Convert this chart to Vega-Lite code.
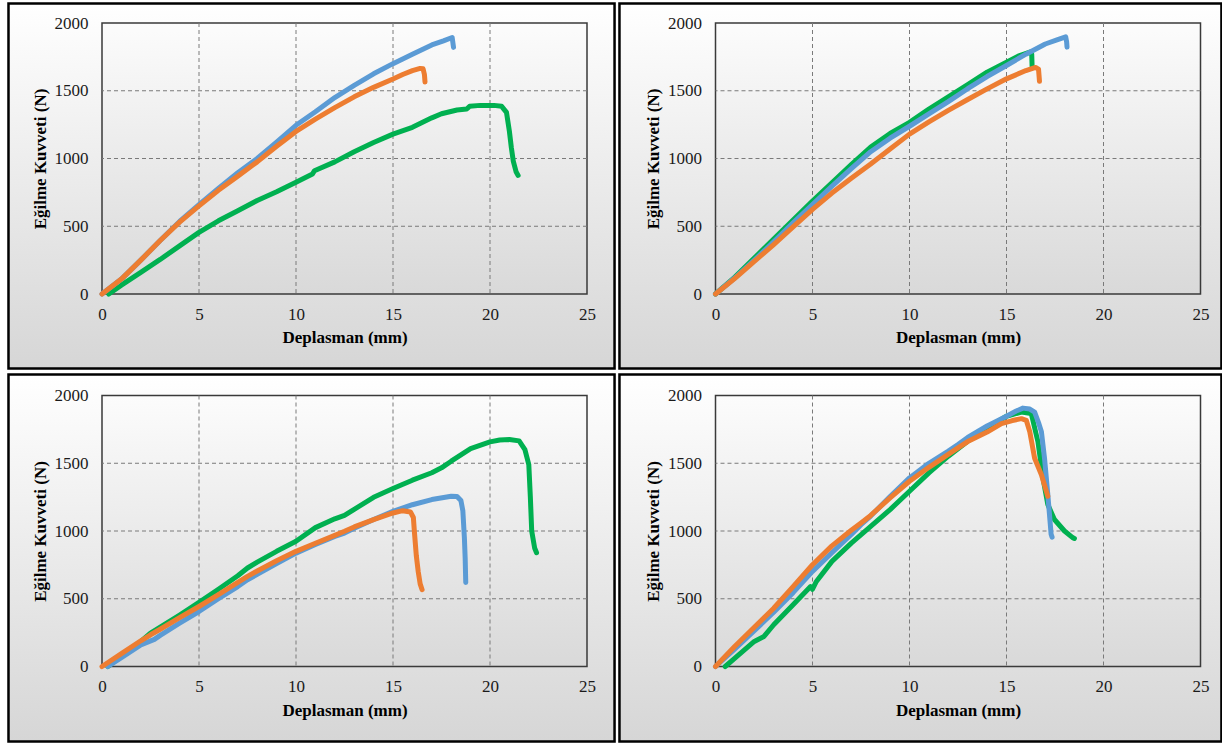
{
"$schema":"https://vega.github.io/schema/vega-lite/v6.json",
"background":"white",
"padding":{"left":7,"top":2,"right":0,"bottom":0},
"columns":2,
"align":"each",
"spacing":{"row":2.5,"column":1.5},
"config":{
 "view":{"stroke":null},
 "axis":{"grid":false,"domain":false,"ticks":false,"tickSize":0,"labelFont":"Liberation Serif","labelFontSize":17,"labelColor":"#1a1a1a","labelFlush":false,"labelOverlap":false,"titleFont":"Liberation Serif","titleFontSize":17,"titleFontWeight":"bold","titleColor":"#000000"},
 "axisX":{"tickCount":5},
 "axisY":{"tickCount":4}
},
"datasets":{"d":[
{"p":1,"s":"G","x":0.35,"y":0},{"p":1,"s":"G","x":1,"y":65},{"p":1,"s":"G","x":2,"y":160},{"p":1,"s":"G","x":3,"y":255},{"p":1,"s":"G","x":4,"y":355},{"p":1,"s":"G","x":5,"y":455},{"p":1,"s":"G","x":6,"y":540},{"p":1,"s":"G","x":7,"y":615},{"p":1,"s":"G","x":8,"y":690},{"p":1,"s":"G","x":9,"y":755},{"p":1,"s":"G","x":10,"y":825},{"p":1,"s":"G","x":10.85,"y":885},{"p":1,"s":"G","x":10.95,"y":910},{"p":1,"s":"G","x":12,"y":975},{"p":1,"s":"G","x":13,"y":1050},{"p":1,"s":"G","x":14,"y":1118},{"p":1,"s":"G","x":15,"y":1180},{"p":1,"s":"G","x":16,"y":1230},{"p":1,"s":"G","x":17,"y":1300},{"p":1,"s":"G","x":17.5,"y":1330},{"p":1,"s":"G","x":18.3,"y":1358},{"p":1,"s":"G","x":18.8,"y":1365},{"p":1,"s":"G","x":18.95,"y":1385},{"p":1,"s":"G","x":19.5,"y":1392},{"p":1,"s":"G","x":20.2,"y":1392},{"p":1,"s":"G","x":20.6,"y":1385},{"p":1,"s":"G","x":20.85,"y":1340},{"p":1,"s":"G","x":21.0,"y":1200},{"p":1,"s":"G","x":21.1,"y":1080},{"p":1,"s":"G","x":21.2,"y":980},{"p":1,"s":"G","x":21.35,"y":900},{"p":1,"s":"G","x":21.45,"y":875},
{"p":1,"s":"B","x":0,"y":0},{"p":1,"s":"B","x":1,"y":110},{"p":1,"s":"B","x":2,"y":250},{"p":1,"s":"B","x":3,"y":395},{"p":1,"s":"B","x":4,"y":535},{"p":1,"s":"B","x":5,"y":660},{"p":1,"s":"B","x":6,"y":780},{"p":1,"s":"B","x":7,"y":895},{"p":1,"s":"B","x":8,"y":1000},{"p":1,"s":"B","x":9,"y":1120},{"p":1,"s":"B","x":10,"y":1245},{"p":1,"s":"B","x":11,"y":1345},{"p":1,"s":"B","x":12,"y":1450},{"p":1,"s":"B","x":13,"y":1540},{"p":1,"s":"B","x":14,"y":1625},{"p":1,"s":"B","x":15,"y":1700},{"p":1,"s":"B","x":16,"y":1770},{"p":1,"s":"B","x":17,"y":1838},{"p":1,"s":"B","x":17.6,"y":1868},{"p":1,"s":"B","x":18.05,"y":1893},{"p":1,"s":"B","x":18.1,"y":1840},{"p":1,"s":"B","x":18.12,"y":1820},
{"p":1,"s":"O","x":0,"y":0},{"p":1,"s":"O","x":1,"y":110},{"p":1,"s":"O","x":2,"y":250},{"p":1,"s":"O","x":3,"y":395},{"p":1,"s":"O","x":4,"y":530},{"p":1,"s":"O","x":5,"y":650},{"p":1,"s":"O","x":6,"y":765},{"p":1,"s":"O","x":7,"y":870},{"p":1,"s":"O","x":8,"y":975},{"p":1,"s":"O","x":9,"y":1090},{"p":1,"s":"O","x":10,"y":1200},{"p":1,"s":"O","x":11,"y":1290},{"p":1,"s":"O","x":12,"y":1375},{"p":1,"s":"O","x":13,"y":1455},{"p":1,"s":"O","x":14,"y":1525},{"p":1,"s":"O","x":15,"y":1587},{"p":1,"s":"O","x":15.5,"y":1620},{"p":1,"s":"O","x":16,"y":1648},{"p":1,"s":"O","x":16.4,"y":1665},{"p":1,"s":"O","x":16.55,"y":1662},{"p":1,"s":"O","x":16.62,"y":1620},{"p":1,"s":"O","x":16.65,"y":1565},
{"p":2,"s":"G","x":0,"y":0},{"p":2,"s":"G","x":1,"y":125},{"p":2,"s":"G","x":2,"y":265},{"p":2,"s":"G","x":3,"y":405},{"p":2,"s":"G","x":4,"y":545},{"p":2,"s":"G","x":5,"y":686},{"p":2,"s":"G","x":6,"y":820},{"p":2,"s":"G","x":7,"y":955},{"p":2,"s":"G","x":8,"y":1085},{"p":2,"s":"G","x":9,"y":1185},{"p":2,"s":"G","x":10,"y":1267},{"p":2,"s":"G","x":11,"y":1365},{"p":2,"s":"G","x":12,"y":1455},{"p":2,"s":"G","x":13,"y":1545},{"p":2,"s":"G","x":14,"y":1637},{"p":2,"s":"G","x":15,"y":1711},{"p":2,"s":"G","x":15.6,"y":1755},{"p":2,"s":"G","x":16.2,"y":1785},{"p":2,"s":"G","x":16.3,"y":1770},{"p":2,"s":"G","x":16.32,"y":1680},
{"p":2,"s":"B","x":0,"y":0},{"p":2,"s":"B","x":1,"y":120},{"p":2,"s":"B","x":2,"y":250},{"p":2,"s":"B","x":3,"y":385},{"p":2,"s":"B","x":4,"y":525},{"p":2,"s":"B","x":5,"y":660},{"p":2,"s":"B","x":6,"y":795},{"p":2,"s":"B","x":7,"y":925},{"p":2,"s":"B","x":8,"y":1050},{"p":2,"s":"B","x":9,"y":1150},{"p":2,"s":"B","x":10,"y":1238},{"p":2,"s":"B","x":11,"y":1330},{"p":2,"s":"B","x":12,"y":1420},{"p":2,"s":"B","x":13,"y":1515},{"p":2,"s":"B","x":14,"y":1605},{"p":2,"s":"B","x":15,"y":1686},{"p":2,"s":"B","x":16,"y":1770},{"p":2,"s":"B","x":17,"y":1845},{"p":2,"s":"B","x":17.6,"y":1875},{"p":2,"s":"B","x":18.05,"y":1898},{"p":2,"s":"B","x":18.1,"y":1860},{"p":2,"s":"B","x":18.12,"y":1822},
{"p":2,"s":"O","x":0,"y":0},{"p":2,"s":"O","x":1,"y":115},{"p":2,"s":"O","x":2,"y":240},{"p":2,"s":"O","x":3,"y":365},{"p":2,"s":"O","x":4,"y":495},{"p":2,"s":"O","x":5,"y":625},{"p":2,"s":"O","x":6,"y":745},{"p":2,"s":"O","x":7,"y":855},{"p":2,"s":"O","x":8,"y":960},{"p":2,"s":"O","x":9,"y":1070},{"p":2,"s":"O","x":10,"y":1180},{"p":2,"s":"O","x":11,"y":1270},{"p":2,"s":"O","x":12,"y":1355},{"p":2,"s":"O","x":13,"y":1435},{"p":2,"s":"O","x":14,"y":1514},{"p":2,"s":"O","x":15,"y":1588},{"p":2,"s":"O","x":16,"y":1649},{"p":2,"s":"O","x":16.5,"y":1672},{"p":2,"s":"O","x":16.65,"y":1660},{"p":2,"s":"O","x":16.7,"y":1570},
{"p":3,"s":"G","x":0.3,"y":0},{"p":3,"s":"G","x":1,"y":80},{"p":3,"s":"G","x":2,"y":185},{"p":3,"s":"G","x":2.5,"y":246},{"p":3,"s":"G","x":3,"y":290},{"p":3,"s":"G","x":4,"y":380},{"p":3,"s":"G","x":5,"y":473},{"p":3,"s":"G","x":6,"y":570},{"p":3,"s":"G","x":7,"y":670},{"p":3,"s":"G","x":7.5,"y":727},{"p":3,"s":"G","x":8,"y":770},{"p":3,"s":"G","x":9,"y":850},{"p":3,"s":"G","x":10,"y":924},{"p":3,"s":"G","x":11,"y":1025},{"p":3,"s":"G","x":12,"y":1090},{"p":3,"s":"G","x":12.5,"y":1116},{"p":3,"s":"G","x":13,"y":1160},{"p":3,"s":"G","x":14,"y":1249},{"p":3,"s":"G","x":15,"y":1313},{"p":3,"s":"G","x":16,"y":1375},{"p":3,"s":"G","x":17,"y":1430},{"p":3,"s":"G","x":17.5,"y":1466},{"p":3,"s":"G","x":18,"y":1515},{"p":3,"s":"G","x":19,"y":1608},{"p":3,"s":"G","x":20,"y":1658},{"p":3,"s":"G","x":20.5,"y":1672},{"p":3,"s":"G","x":21,"y":1675},{"p":3,"s":"G","x":21.5,"y":1665},{"p":3,"s":"G","x":21.8,"y":1600},{"p":3,"s":"G","x":22.0,"y":1490},{"p":3,"s":"G","x":22.08,"y":1250},{"p":3,"s":"G","x":22.15,"y":1000},{"p":3,"s":"G","x":22.3,"y":875},{"p":3,"s":"G","x":22.4,"y":840},
{"p":3,"s":"B","x":0.3,"y":0},{"p":3,"s":"B","x":1,"y":65},{"p":3,"s":"B","x":2,"y":160},{"p":3,"s":"B","x":2.7,"y":200},{"p":3,"s":"B","x":3,"y":230},{"p":3,"s":"B","x":4,"y":320},{"p":3,"s":"B","x":5,"y":406},{"p":3,"s":"B","x":6,"y":500},{"p":3,"s":"B","x":7,"y":590},{"p":3,"s":"B","x":7.5,"y":640},{"p":3,"s":"B","x":8,"y":680},{"p":3,"s":"B","x":9,"y":760},{"p":3,"s":"B","x":10,"y":837},{"p":3,"s":"B","x":11,"y":900},{"p":3,"s":"B","x":12,"y":960},{"p":3,"s":"B","x":12.5,"y":985},{"p":3,"s":"B","x":13,"y":1020},{"p":3,"s":"B","x":14,"y":1085},{"p":3,"s":"B","x":15,"y":1145},{"p":3,"s":"B","x":16,"y":1194},{"p":3,"s":"B","x":17,"y":1232},{"p":3,"s":"B","x":18,"y":1256},{"p":3,"s":"B","x":18.3,"y":1255},{"p":3,"s":"B","x":18.5,"y":1225},{"p":3,"s":"B","x":18.6,"y":1150},{"p":3,"s":"B","x":18.68,"y":950},{"p":3,"s":"B","x":18.72,"y":800},{"p":3,"s":"B","x":18.75,"y":620},
{"p":3,"s":"O","x":0,"y":0},{"p":3,"s":"O","x":1,"y":95},{"p":3,"s":"O","x":2,"y":190},{"p":3,"s":"O","x":2.5,"y":234},{"p":3,"s":"O","x":3,"y":275},{"p":3,"s":"O","x":4,"y":360},{"p":3,"s":"O","x":5,"y":443},{"p":3,"s":"O","x":6,"y":530},{"p":3,"s":"O","x":7,"y":620},{"p":3,"s":"O","x":7.5,"y":665},{"p":3,"s":"O","x":8,"y":705},{"p":3,"s":"O","x":9,"y":780},{"p":3,"s":"O","x":10,"y":850},{"p":3,"s":"O","x":11,"y":910},{"p":3,"s":"O","x":12,"y":968},{"p":3,"s":"O","x":12.5,"y":998},{"p":3,"s":"O","x":13,"y":1030},{"p":3,"s":"O","x":14,"y":1084},{"p":3,"s":"O","x":15,"y":1133},{"p":3,"s":"O","x":15.5,"y":1150},{"p":3,"s":"O","x":15.9,"y":1140},{"p":3,"s":"O","x":16.05,"y":1100},{"p":3,"s":"O","x":16.1,"y":1000},{"p":3,"s":"O","x":16.2,"y":820},{"p":3,"s":"O","x":16.3,"y":700},{"p":3,"s":"O","x":16.4,"y":610},{"p":3,"s":"O","x":16.5,"y":567},
{"p":4,"s":"G","x":0.5,"y":0},{"p":4,"s":"G","x":1,"y":62},{"p":4,"s":"G","x":2,"y":185},{"p":4,"s":"G","x":2.5,"y":222},{"p":4,"s":"G","x":3,"y":308},{"p":4,"s":"G","x":4,"y":456},{"p":4,"s":"G","x":4.9,"y":590},{"p":4,"s":"G","x":5.0,"y":570},{"p":4,"s":"G","x":5.2,"y":628},{"p":4,"s":"G","x":6,"y":776},{"p":4,"s":"G","x":7,"y":911},{"p":4,"s":"G","x":8,"y":1034},{"p":4,"s":"G","x":9,"y":1158},{"p":4,"s":"G","x":10,"y":1293},{"p":4,"s":"G","x":11,"y":1429},{"p":4,"s":"G","x":12,"y":1552},{"p":4,"s":"G","x":13,"y":1663},{"p":4,"s":"G","x":14,"y":1761},{"p":4,"s":"G","x":15,"y":1847},{"p":4,"s":"G","x":15.77,"y":1878},{"p":4,"s":"G","x":16.28,"y":1866},{"p":4,"s":"G","x":16.62,"y":1659},{"p":4,"s":"G","x":16.88,"y":1390},{"p":4,"s":"G","x":17.13,"y":1195},{"p":4,"s":"G","x":17.47,"y":1085},{"p":4,"s":"G","x":17.99,"y":1000},{"p":4,"s":"G","x":18.41,"y":951},{"p":4,"s":"G","x":18.5,"y":945},
{"p":4,"s":"B","x":0,"y":0},{"p":4,"s":"B","x":1,"y":130},{"p":4,"s":"B","x":2,"y":265},{"p":4,"s":"B","x":3,"y":400},{"p":4,"s":"B","x":4,"y":545},{"p":4,"s":"B","x":5,"y":702},{"p":4,"s":"B","x":6,"y":840},{"p":4,"s":"B","x":7,"y":975},{"p":4,"s":"B","x":7.5,"y":1047},{"p":4,"s":"B","x":8,"y":1110},{"p":4,"s":"B","x":9,"y":1255},{"p":4,"s":"B","x":10,"y":1392},{"p":4,"s":"B","x":11,"y":1500},{"p":4,"s":"B","x":12,"y":1590},{"p":4,"s":"B","x":12.5,"y":1638},{"p":4,"s":"B","x":13,"y":1690},{"p":4,"s":"B","x":14,"y":1775},{"p":4,"s":"B","x":15,"y":1847},{"p":4,"s":"B","x":15.5,"y":1885},{"p":4,"s":"B","x":15.85,"y":1907},{"p":4,"s":"B","x":16.2,"y":1900},{"p":4,"s":"B","x":16.45,"y":1878},{"p":4,"s":"B","x":16.65,"y":1800},{"p":4,"s":"B","x":16.8,"y":1732},{"p":4,"s":"B","x":16.96,"y":1537},{"p":4,"s":"B","x":17.13,"y":1268},{"p":4,"s":"B","x":17.3,"y":976},{"p":4,"s":"B","x":17.35,"y":955},
{"p":4,"s":"O","x":0,"y":0},{"p":4,"s":"O","x":1,"y":150},{"p":4,"s":"O","x":2,"y":290},{"p":4,"s":"O","x":3,"y":430},{"p":4,"s":"O","x":4,"y":590},{"p":4,"s":"O","x":5,"y":751},{"p":4,"s":"O","x":6,"y":890},{"p":4,"s":"O","x":7,"y":1005},{"p":4,"s":"O","x":7.5,"y":1059},{"p":4,"s":"O","x":8,"y":1115},{"p":4,"s":"O","x":9,"y":1245},{"p":4,"s":"O","x":10,"y":1367},{"p":4,"s":"O","x":11,"y":1470},{"p":4,"s":"O","x":12,"y":1565},{"p":4,"s":"O","x":12.5,"y":1613},{"p":4,"s":"O","x":13,"y":1660},{"p":4,"s":"O","x":14,"y":1730},{"p":4,"s":"O","x":14.74,"y":1793},{"p":4,"s":"O","x":15.3,"y":1815},{"p":4,"s":"O","x":15.77,"y":1829},{"p":4,"s":"O","x":16.02,"y":1817},{"p":4,"s":"O","x":16.2,"y":1732},{"p":4,"s":"O","x":16.45,"y":1537},{"p":4,"s":"O","x":16.8,"y":1415},{"p":4,"s":"O","x":17.13,"y":1256}
]},
"concat":[
{"width":485,"height":271,"layer":[
 {"data":{"values":[{}]},"mark":{"type":"rect","clip":false,"fill":{"gradient":"linear","x1":0,"y1":0,"x2":0,"y2":1,"stops":[{"offset":0,"color":"#ffffff"},{"offset":1,"color":"#d6d6d6"}]},"stroke":"#000000","strokeWidth":2.5},
  "encoding":{"x":{"datum":-4.82,"type":"quantitative","scale":{"domain":[0,25],"nice":false,"zero":false},"title":"Deplasman (mm)","axis":{"zindex":1,"format":"d","titleY":48.5,"titleBaseline":"alphabetic","labelPadding":12}},"x2":{"datum":26.42},"y":{"datum":2144,"type":"quantitative","scale":{"domain":[0,2000],"nice":false,"zero":false},"title":"Eğilme Kuvveti (N)","axis":{"zindex":1,"format":"d","titleX":-57,"titleBaseline":"alphabetic","labelPadding":14}},"y2":{"datum":-550}}},
 {"data":{"values":[{}]},"mark":{"type":"rect","fill":{"gradient":"linear","x1":0,"y1":0,"x2":0,"y2":1,"stops":[{"offset":0,"color":"#fcfcfc"},{"offset":1,"color":"#d9d9d9"}]},"stroke":"#3a3a3a","strokeWidth":1.5},
  "encoding":{"x":{"datum":0,"type":"quantitative","scale":{"domain":[0,25],"nice":false,"zero":false},"title":"Deplasman (mm)"},"x2":{"datum":25},"y":{"datum":2000,"type":"quantitative","scale":{"domain":[0,2000],"nice":false,"zero":false},"title":"Eğilme Kuvveti (N)"},"y2":{"datum":0}}},
 {"data":{"values":[{"v":5},{"v":10},{"v":15},{"v":20}]},"mark":{"type":"rule","stroke":"#7a7a7a","strokeDash":[4,3],"strokeWidth":1},"encoding":{"x":{"field":"v","type":"quantitative","scale":{"domain":[0,25],"nice":false,"zero":false},"title":"Deplasman (mm)"}}},
 {"data":{"values":[{"v":500},{"v":1000},{"v":1500}]},"mark":{"type":"rule","stroke":"#7a7a7a","strokeDash":[4,3],"strokeWidth":1},"encoding":{"y":{"field":"v","type":"quantitative","scale":{"domain":[0,2000],"nice":false,"zero":false},"title":"Eğilme Kuvveti (N)"}}},
 {"data":{"name":"d"},"transform":[{"filter":"datum.p==1"}],"mark":{"type":"line","strokeWidth":5,"strokeCap":"round","strokeJoin":"round"},
  "encoding":{"x":{"field":"x","type":"quantitative","scale":{"domain":[0,25],"nice":false,"zero":false},"title":"Deplasman (mm)"},"y":{"field":"y","type":"quantitative","scale":{"domain":[0,2000],"nice":false,"zero":false},"title":"Eğilme Kuvveti (N)"},"color":{"field":"s","type":"nominal","scale":{"domain":["B","O","G"],"range":["#5b9bd5","#ed7d31","#00b050"]},"legend":null}}}
]},
{"width":485,"height":271,"layer":[
 {"data":{"values":[{}]},"mark":{"type":"rect","clip":false,"fill":{"gradient":"linear","x1":0,"y1":0,"x2":0,"y2":1,"stops":[{"offset":0,"color":"#ffffff"},{"offset":1,"color":"#d6d6d6"}]},"stroke":"#000000","strokeWidth":2.5},
  "encoding":{"x":{"datum":-4.95,"type":"quantitative","scale":{"domain":[0,25],"nice":false,"zero":false},"title":"Deplasman (mm)","axis":{"zindex":1,"format":"d","titleY":48.5,"titleBaseline":"alphabetic","labelPadding":12}},"x2":{"datum":26.08},"y":{"datum":2144,"type":"quantitative","scale":{"domain":[0,2000],"nice":false,"zero":false},"title":"Eğilme Kuvveti (N)","axis":{"zindex":1,"format":"d","titleX":-57,"titleBaseline":"alphabetic","labelPadding":14}},"y2":{"datum":-550}}},
 {"data":{"values":[{}]},"mark":{"type":"rect","fill":{"gradient":"linear","x1":0,"y1":0,"x2":0,"y2":1,"stops":[{"offset":0,"color":"#fcfcfc"},{"offset":1,"color":"#d9d9d9"}]},"stroke":"#3a3a3a","strokeWidth":1.5},
  "encoding":{"x":{"datum":0,"type":"quantitative","scale":{"domain":[0,25],"nice":false,"zero":false},"title":"Deplasman (mm)"},"x2":{"datum":25},"y":{"datum":2000,"type":"quantitative","scale":{"domain":[0,2000],"nice":false,"zero":false},"title":"Eğilme Kuvveti (N)"},"y2":{"datum":0}}},
 {"data":{"values":[{"v":5},{"v":10},{"v":15},{"v":20}]},"mark":{"type":"rule","stroke":"#7a7a7a","strokeDash":[4,3],"strokeWidth":1},"encoding":{"x":{"field":"v","type":"quantitative","scale":{"domain":[0,25],"nice":false,"zero":false},"title":"Deplasman (mm)"}}},
 {"data":{"values":[{"v":500},{"v":1000},{"v":1500}]},"mark":{"type":"rule","stroke":"#7a7a7a","strokeDash":[4,3],"strokeWidth":1},"encoding":{"y":{"field":"v","type":"quantitative","scale":{"domain":[0,2000],"nice":false,"zero":false},"title":"Eğilme Kuvveti (N)"}}},
 {"data":{"name":"d"},"transform":[{"filter":"datum.p==2"}],"mark":{"type":"line","strokeWidth":5,"strokeCap":"round","strokeJoin":"round"},
  "encoding":{"x":{"field":"x","type":"quantitative","scale":{"domain":[0,25],"nice":false,"zero":false},"title":"Deplasman (mm)"},"y":{"field":"y","type":"quantitative","scale":{"domain":[0,2000],"nice":false,"zero":false},"title":"Eğilme Kuvveti (N)"},"color":{"field":"s","type":"nominal","scale":{"domain":["B","O","G"],"range":["#5b9bd5","#ed7d31","#00b050"]},"legend":null}}}
]},
{"width":485,"height":271,"layer":[
 {"data":{"values":[{}]},"mark":{"type":"rect","clip":false,"fill":{"gradient":"linear","x1":0,"y1":0,"x2":0,"y2":1,"stops":[{"offset":0,"color":"#ffffff"},{"offset":1,"color":"#d6d6d6"}]},"stroke":"#000000","strokeWidth":2.5},
  "encoding":{"x":{"datum":-4.82,"type":"quantitative","scale":{"domain":[0,25],"nice":false,"zero":false},"title":"Deplasman (mm)","axis":{"zindex":1,"format":"d","titleY":48.5,"titleBaseline":"alphabetic","labelPadding":12}},"x2":{"datum":26.42},"y":{"datum":2155,"type":"quantitative","scale":{"domain":[0,2000],"nice":false,"zero":false},"title":"Eğilme Kuvveti (N)","axis":{"zindex":1,"format":"d","titleX":-57,"titleBaseline":"alphabetic","labelPadding":14}},"y2":{"datum":-553}}},
 {"data":{"values":[{}]},"mark":{"type":"rect","fill":{"gradient":"linear","x1":0,"y1":0,"x2":0,"y2":1,"stops":[{"offset":0,"color":"#fcfcfc"},{"offset":1,"color":"#d9d9d9"}]},"stroke":"#3a3a3a","strokeWidth":1.5},
  "encoding":{"x":{"datum":0,"type":"quantitative","scale":{"domain":[0,25],"nice":false,"zero":false},"title":"Deplasman (mm)"},"x2":{"datum":25},"y":{"datum":2000,"type":"quantitative","scale":{"domain":[0,2000],"nice":false,"zero":false},"title":"Eğilme Kuvveti (N)"},"y2":{"datum":0}}},
 {"data":{"values":[{"v":5},{"v":10},{"v":15},{"v":20}]},"mark":{"type":"rule","stroke":"#7a7a7a","strokeDash":[4,3],"strokeWidth":1},"encoding":{"x":{"field":"v","type":"quantitative","scale":{"domain":[0,25],"nice":false,"zero":false},"title":"Deplasman (mm)"}}},
 {"data":{"values":[{"v":500},{"v":1000},{"v":1500}]},"mark":{"type":"rule","stroke":"#7a7a7a","strokeDash":[4,3],"strokeWidth":1},"encoding":{"y":{"field":"v","type":"quantitative","scale":{"domain":[0,2000],"nice":false,"zero":false},"title":"Eğilme Kuvveti (N)"}}},
 {"data":{"name":"d"},"transform":[{"filter":"datum.p==3"}],"mark":{"type":"line","strokeWidth":5,"strokeCap":"round","strokeJoin":"round"},
  "encoding":{"x":{"field":"x","type":"quantitative","scale":{"domain":[0,25],"nice":false,"zero":false},"title":"Deplasman (mm)"},"y":{"field":"y","type":"quantitative","scale":{"domain":[0,2000],"nice":false,"zero":false},"title":"Eğilme Kuvveti (N)"},"color":{"field":"s","type":"nominal","scale":{"domain":["B","O","G"],"range":["#5b9bd5","#ed7d31","#00b050"]},"legend":null}}}
]},
{"width":485,"height":271,"layer":[
 {"data":{"values":[{}]},"mark":{"type":"rect","clip":false,"fill":{"gradient":"linear","x1":0,"y1":0,"x2":0,"y2":1,"stops":[{"offset":0,"color":"#ffffff"},{"offset":1,"color":"#d6d6d6"}]},"stroke":"#000000","strokeWidth":2.5},
  "encoding":{"x":{"datum":-4.95,"type":"quantitative","scale":{"domain":[0,25],"nice":false,"zero":false},"title":"Deplasman (mm)","axis":{"zindex":1,"format":"d","titleY":48.5,"titleBaseline":"alphabetic","labelPadding":12}},"x2":{"datum":26.08},"y":{"datum":2155,"type":"quantitative","scale":{"domain":[0,2000],"nice":false,"zero":false},"title":"Eğilme Kuvveti (N)","axis":{"zindex":1,"format":"d","titleX":-57,"titleBaseline":"alphabetic","labelPadding":14}},"y2":{"datum":-553}}},
 {"data":{"values":[{}]},"mark":{"type":"rect","fill":{"gradient":"linear","x1":0,"y1":0,"x2":0,"y2":1,"stops":[{"offset":0,"color":"#fcfcfc"},{"offset":1,"color":"#d9d9d9"}]},"stroke":"#3a3a3a","strokeWidth":1.5},
  "encoding":{"x":{"datum":0,"type":"quantitative","scale":{"domain":[0,25],"nice":false,"zero":false},"title":"Deplasman (mm)"},"x2":{"datum":25},"y":{"datum":2000,"type":"quantitative","scale":{"domain":[0,2000],"nice":false,"zero":false},"title":"Eğilme Kuvveti (N)"},"y2":{"datum":0}}},
 {"data":{"values":[{"v":5},{"v":10},{"v":15},{"v":20}]},"mark":{"type":"rule","stroke":"#7a7a7a","strokeDash":[4,3],"strokeWidth":1},"encoding":{"x":{"field":"v","type":"quantitative","scale":{"domain":[0,25],"nice":false,"zero":false},"title":"Deplasman (mm)"}}},
 {"data":{"values":[{"v":500},{"v":1000},{"v":1500}]},"mark":{"type":"rule","stroke":"#7a7a7a","strokeDash":[4,3],"strokeWidth":1},"encoding":{"y":{"field":"v","type":"quantitative","scale":{"domain":[0,2000],"nice":false,"zero":false},"title":"Eğilme Kuvveti (N)"}}},
 {"data":{"name":"d"},"transform":[{"filter":"datum.p==4"}],"mark":{"type":"line","strokeWidth":5,"strokeCap":"round","strokeJoin":"round"},
  "encoding":{"x":{"field":"x","type":"quantitative","scale":{"domain":[0,25],"nice":false,"zero":false},"title":"Deplasman (mm)"},"y":{"field":"y","type":"quantitative","scale":{"domain":[0,2000],"nice":false,"zero":false},"title":"Eğilme Kuvveti (N)"},"color":{"field":"s","type":"nominal","scale":{"domain":["B","O","G"],"range":["#5b9bd5","#ed7d31","#00b050"]},"legend":null}}}
]}
]
}
